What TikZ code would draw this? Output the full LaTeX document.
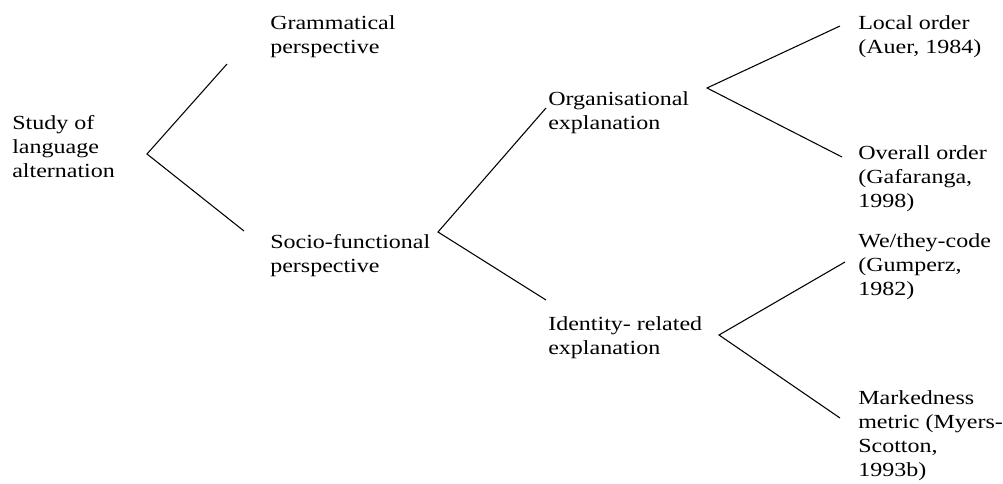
\documentclass[tikz,border=0pt]{standalone}
\usepackage{fontspec}
\newfontfamily\treefont[FakeStretch=1.2]{Liberation Serif}
\usepackage{tikz}
\usetikzlibrary{positioning,calc}
\tikzset{
  term/.style   ={anchor=north west,align=left,inner sep=0pt,font=\treefont\fontsize{15pt}{18pt}\selectfont},
  branch/.style ={draw,line width=0.8pt}
}

\begin{document}
\begin{tikzpicture}[x=0.75pt,y=-0.75pt]
    \useasboundingbox (0,0) rectangle (1003,483);
    \node[term] (study)   at (12,115)  {Study of\\language\\alternation};
    \node[term] (gram)    at (270,15)  {Grammatical\\perspective};
    \node[term] (socio)   at (270,234) {Socio-functional\\perspective};
    \node[term] (org)     at (548,91)  {Organisational\\explanation};
    \node[term] (ident)   at (548,316) {Identity- related\\explanation};
    \node[term] (local)   at (858,15)  {Local order\\(Auer, 1984)};
    \node[term] (overall) at (858,145) {Overall order\\(Gafaranga,\\1998)};
    \node[term] (wethey)  at (858,233) {We/they-code\\(Gumperz,\\1982)};
    \node[term] (marked)  at (858,390) {Markedness\\metric (Myers-\\Scotton,\\1993b)};
    \coordinate (studyfork) at (147,154);
    \coordinate (sociofork) at (438,232);
    \coordinate (orgfork)   at (707,88);
    \coordinate (identfork) at (719,335);
    \draw[branch] ([shift={(-43,49)}]gram.north west)    -- (studyfork) -- ([shift={(-26,-3)}]socio.north west);
    \draw[branch] ([shift={(-2,17)}]org.north west)      -- (sociofork) -- ([shift={(-2,-16)}]ident.north west);
    \draw[branch] ([shift={(-18,11)}]local.north west)   -- (orgfork)   -- ([shift={(-16,12)}]overall.north west);
    \draw[branch] ([shift={(-13,29)}]wethey.north west)  -- (identfork) -- ([shift={(-18,28)}]marked.north west);
  \end{tikzpicture}
\end{document}
